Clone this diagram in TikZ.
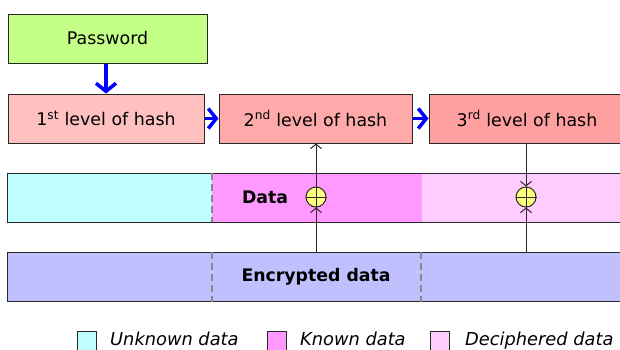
\documentclass[tikz,border=0pt]{standalone}
\usepackage{fontspec}
\setmainfont{DejaVu Sans}
\usetikzlibrary{arrows.meta,calc}

\definecolor{pwgreen}{RGB}{196,255,136}
\definecolor{hashA}{RGB}{255,192,192}
\definecolor{hashB}{RGB}{255,170,170}
\definecolor{hashC}{RGB}{255,160,160}
\definecolor{unknownc}{RGB}{192,255,255}
\definecolor{knownc}{RGB}{255,153,255}
\definecolor{decipherc}{RGB}{255,204,255}
\definecolor{encc}{RGB}{192,192,255}
\definecolor{xorc}{RGB}{255,255,128}
\definecolor{edge}{RGB}{40,40,40}
\definecolor{sep}{RGB}{136,136,136}
\definecolor{flow}{RGB}{0,0,255}

\tikzset{
  box/.style={draw=edge, line width=1pt, minimum height=49pt, inner sep=0pt,
    font=\fontsize{17.4}{19}\selectfont},
  band/.style={line width=0pt, inner sep=0pt, minimum height=49pt},
  flowarrow/.style={draw=flow, line width=3.5pt, -{Straight Barb[length=8pt,width=20pt]}},
  thin arrow/.style={draw=edge, line width=1pt, -{Straight Barb[length=4.5pt,width=11pt]}},
  xorgate/.style={circle, draw=edge, fill=xorc, line width=1pt, minimum size=20pt, inner sep=0pt},
  divider/.style={draw=sep, line width=1.2pt, dash pattern=on 7pt off 4pt},
  boldlabel/.style={font=\fontsize{17.3}{19}\selectfont\bfseries},
  legendsq/.style={draw=edge, line width=1pt, minimum width=19pt, minimum height=22pt, inner sep=0pt, anchor=north west},
  legendtxt/.style={font=\fontsize{17.8}{19}\selectfont\itshape, anchor=base west, inner sep=0pt, text depth=0pt},
}

\begin{document}
\begin{tikzpicture}[x=1pt,y=-1pt]
\clip (0,0) rectangle (620,349);
\fill[white] (0,0) rectangle (620,349);

% hash chain
\node[box, fill=pwgreen, minimum width=199pt] (pw) at (107.5,38.5) {Password};
\node[box, fill=hashA, minimum width=196pt] (h1) at (106,118.5) {1\textsuperscript{st} level of hash};
\node[box, fill=hashB, minimum width=193pt] (h2) at (315.5,118.5) {2\textsuperscript{nd} level of hash};
\node[box, fill=hashC, minimum width=196pt] (h3) at (527,118.5) {3\textsuperscript{rd} level of hash};

\draw[flowarrow] (pw.south -| h1.north) -- (h1.north);
\draw[flowarrow] (h1.east) -- (h2.west);
\draw[flowarrow] (h2.east) -- (h3.west);

% data band
\node[band, fill=unknownc, minimum width=205pt, anchor=north west] (du) at (7,173) {};
\node[band, fill=knownc, minimum width=210pt, anchor=north west] (dk) at (212,173) {};
\node[band, fill=decipherc, minimum width=210pt, anchor=north west] (dd) at (422,173) {};
\draw[edge, line width=1pt] (dd.north east) -- (du.north west) -- (du.south west) -- (dd.south east);
\draw[divider] (du.north east) -- (du.south east);
\node[boldlabel] (dlabel) at (265,197) {Data};

% encrypted band
\node[band, fill=encc, minimum width=625pt, anchor=north west, draw=edge, line width=1pt] (enc) at (7,252) {};
\coordinate (encA) at (212,252);
\coordinate (encB) at (421,252);
\draw[divider] (encA) -- (encA |- enc.south);
\draw[divider] (encB) -- (encB |- enc.south);
\node[boldlabel] (elabel) at (316,277) {Encrypted data};

% xor gates
\node[xorgate] (x1) at (316,197) {};
\node[xorgate] (x2) at (526,197) {};
\foreach \g in {x1,x2}{
  \draw[edge, line width=1pt] (\g.north) -- (\g.south) (\g.west) -- (\g.east);
}
\draw[thin arrow] (enc.north -| x1) -- (x1.south);
\draw[thin arrow] (x1.north) -- (h2.south -| x1);
\draw[thin arrow] (h3.south -| x2) -- (x2.north);
\draw[thin arrow] (enc.north -| x2) -- (x2.south);

% legend
\node[legendsq, fill=unknownc] (l1) at (77,331) {};
\node[legendtxt] (t1) at (110,345.5) {Unknown data};
\node[legendsq, fill=knownc] (l2) at (267,331) {};
\node[legendtxt] (t2) at (300,345.5) {Known data};
\node[legendsq, fill=decipherc] (l3) at (430,331) {};
\node[legendtxt] (t3) at (465,345.5) {Deciphered data};
\end{tikzpicture}
\end{document}
